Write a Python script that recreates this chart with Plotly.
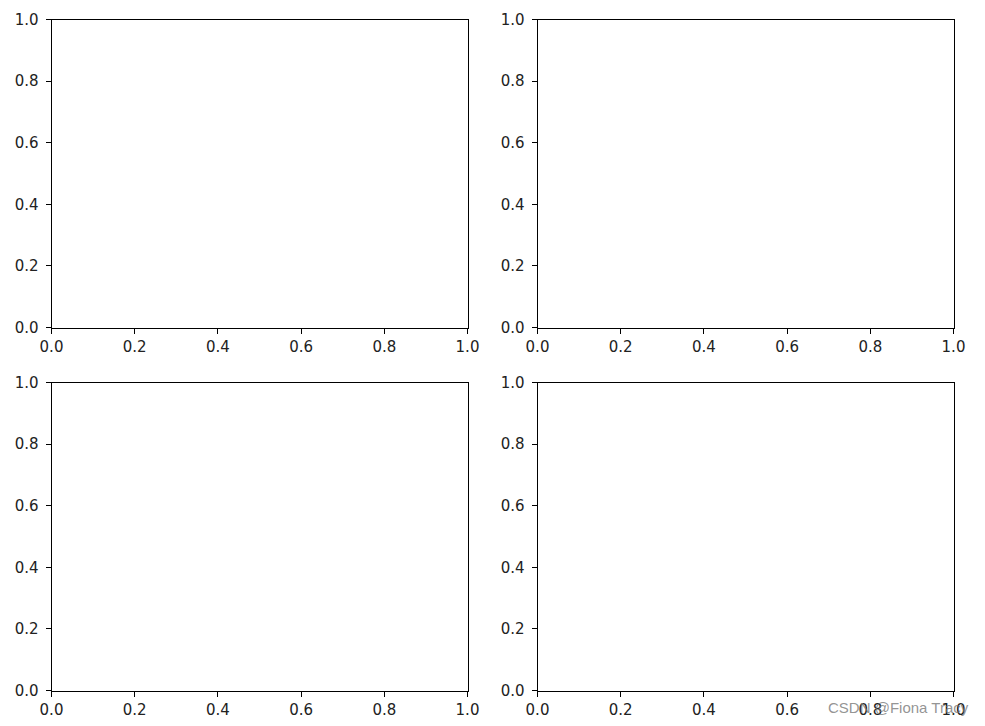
import plotly.graph_objects as go

# Tick values / labels (empty 2x2 subplot grid, matplotlib default 0..1)
tick_vals = [0.0, 0.2, 0.4, 0.6, 0.8, 1.0]
tick_text = ["0.0", "0.2", "0.4", "0.6", "0.8", "1.0"]
x_range = [0.0, 1.0]
y_range = [0.0, 1.0]

W, H = 985, 726
OFF = 7.5  # page body offset
col_px = [(51, 467), (537, 953)]
row_px = [(19, 327), (382, 690)]  # top, bottom in pixels

fig = go.Figure()
layout = dict(
    width=W, height=H,
    margin=dict(l=0, r=0, t=0, b=0, autoexpand=False),
    paper_bgcolor="white", plot_bgcolor="white",
    showlegend=False,
    font=dict(family="DejaVu Sans", size=15, color="black"),
)

idx = 0
for r, (ytop, ybot) in enumerate(row_px):
    for c, (xl, xr) in enumerate(col_px):
        idx += 1
        sfx = "" if idx == 1 else str(idx)
        axis_common = dict(
            showline=True, linecolor="black", linewidth=1, mirror=True,
            showgrid=False, zeroline=False, automargin=False,
            ticks="outside", ticklen=5, tickwidth=1, tickcolor="black",
            tickvals=tick_vals, ticktext=tick_text,
            tickfont=dict(family="DejaVu Sans", size=15, color="#222222"),
            fixedrange=True,
        )
        layout["xaxis" + sfx] = dict(
            axis_common, range=x_range,
            domain=[(xl - OFF) / W, (xr - OFF) / W],
            anchor="y" + sfx,
        )
        layout["yaxis" + sfx] = dict(
            axis_common, range=y_range,
            domain=[1 - (ybot - OFF) / H, 1 - (ytop - OFF) / H],
            anchor="x" + sfx, ticklabelstandoff=4,
        )
        fig.add_trace(go.Scatter(x=[], y=[], xaxis="x" + sfx, yaxis="y" + sfx))

layout["annotations"] = [
    dict(text="CSDN @Fiona Tracy", x=(970 - OFF) / W, y=1 - (707 - OFF) / H,
         xref="paper", yref="paper", xanchor="right", yanchor="middle",
         showarrow=False,
         font=dict(family="Liberation Sans", size=15, color="rgba(120,120,120,0.8)"))
]

fig.update_layout(**layout)
fig.write_html("out.html")
